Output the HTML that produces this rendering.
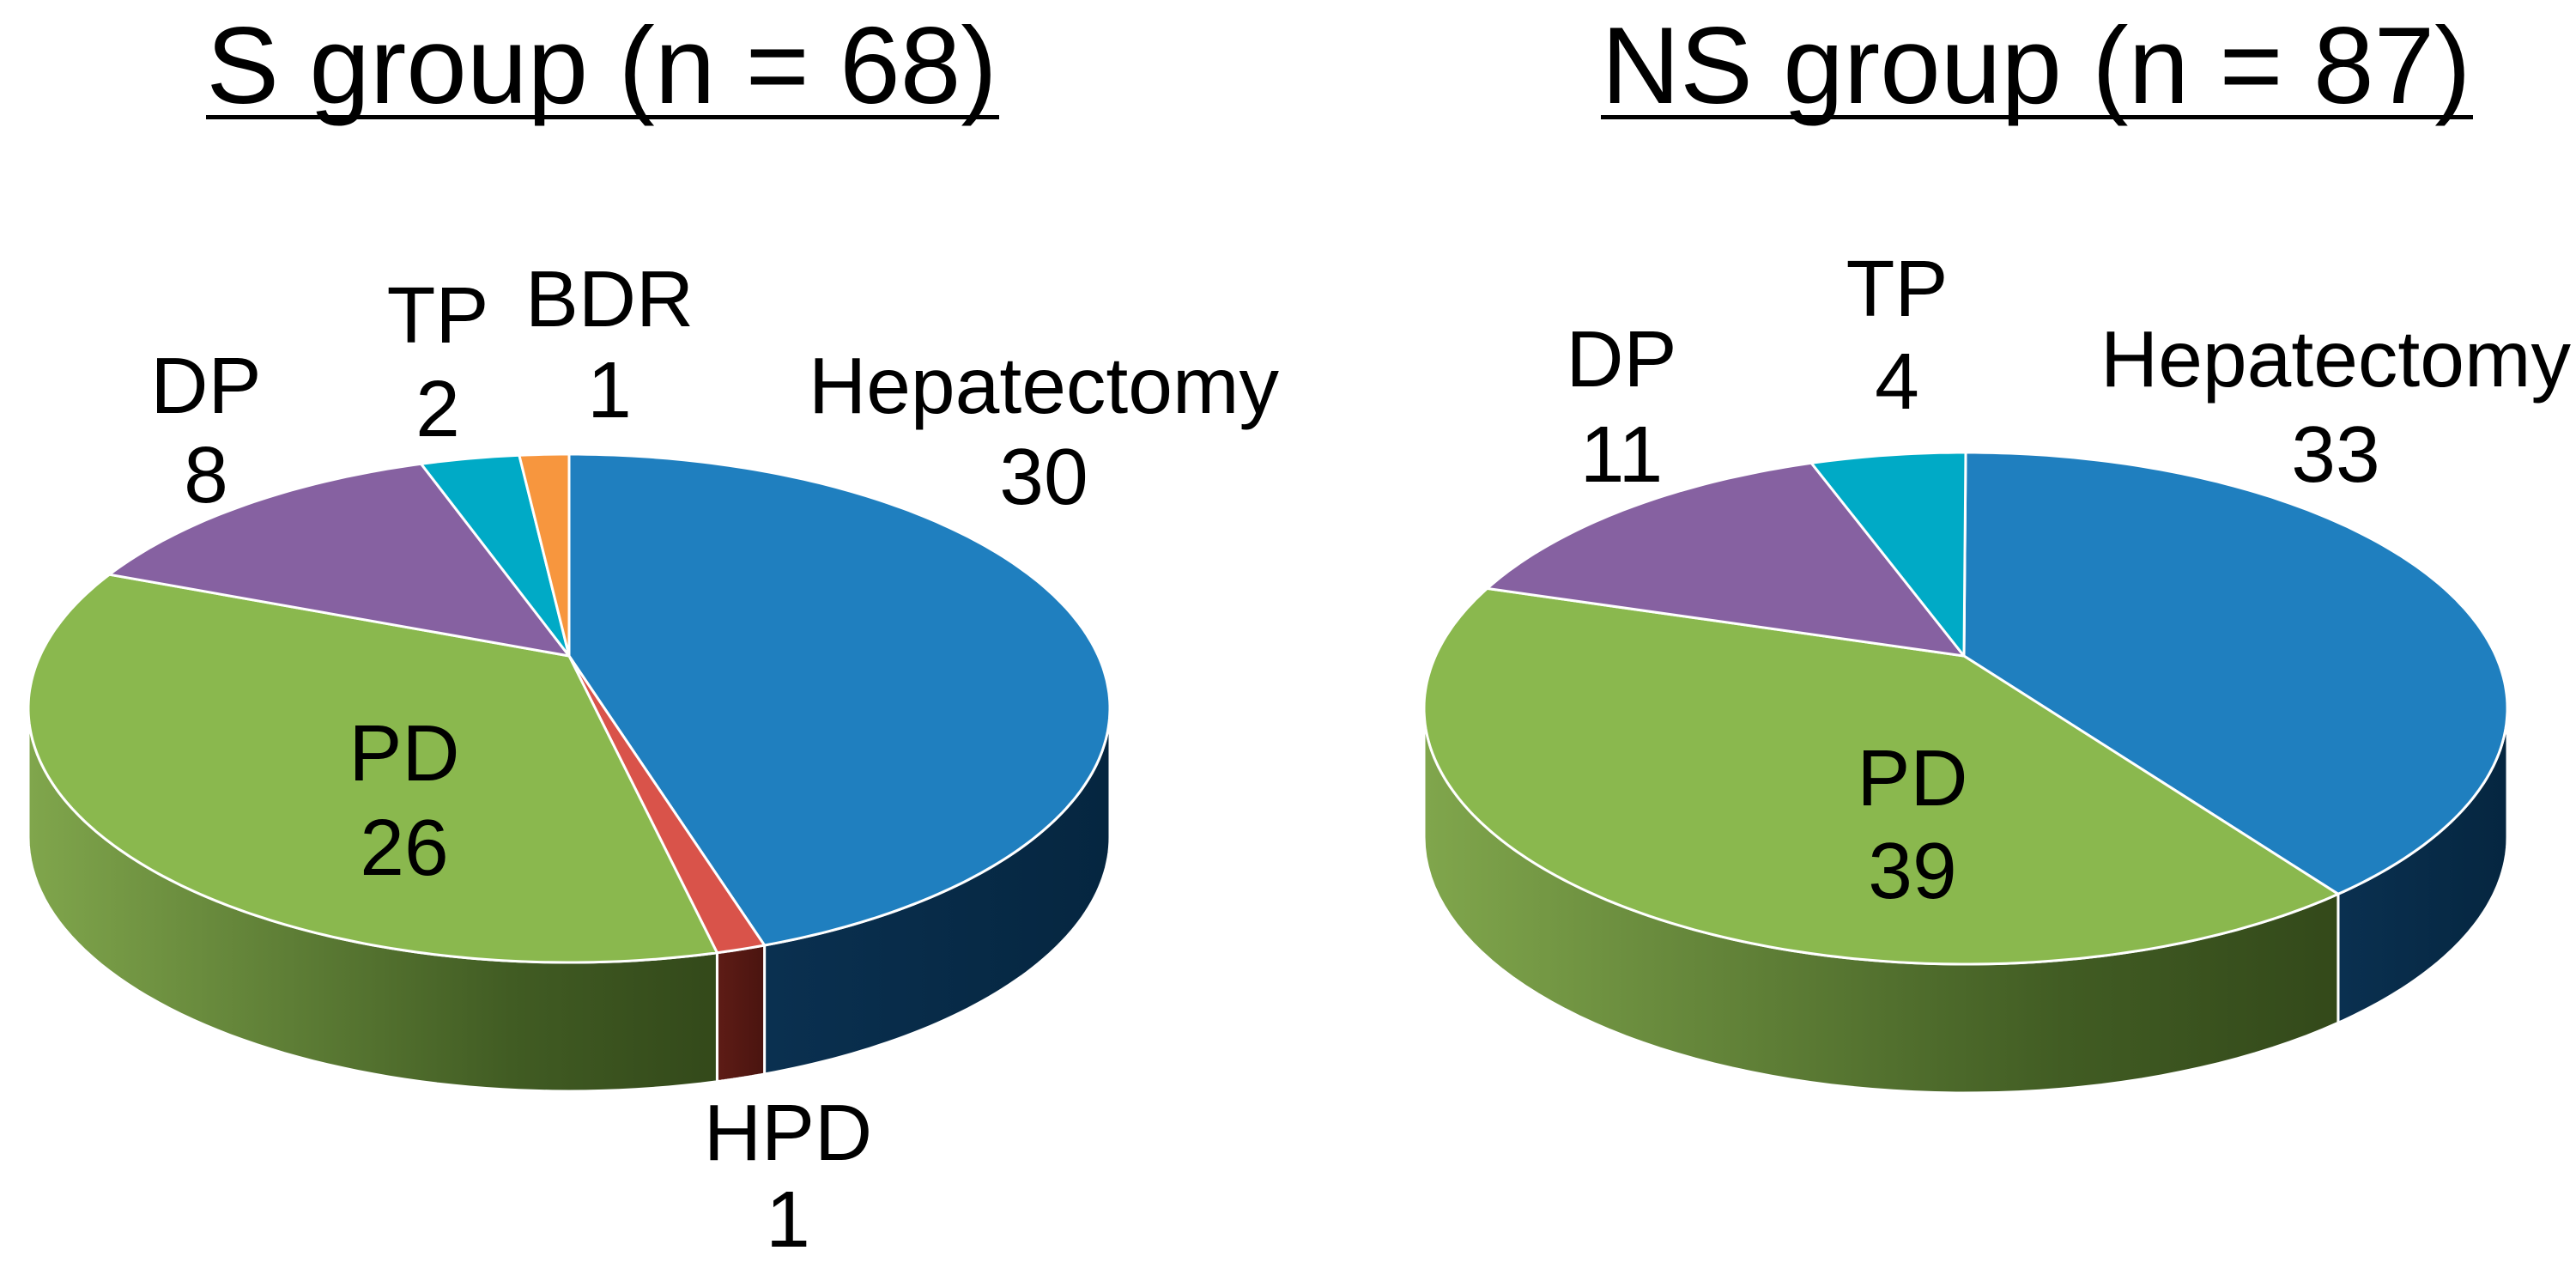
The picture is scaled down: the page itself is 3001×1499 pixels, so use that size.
<!DOCTYPE html>
<html><head><meta charset="utf-8"><style>
html,body{margin:0;padding:0;background:#fff;}
svg{display:block;font-family:"Liberation Sans",Arial,sans-serif;}
</style></head><body>
<svg id="chart" width="3001" height="1499" viewBox="0 0 3001 1499" xmlns="http://www.w3.org/2000/svg">
<defs>
<linearGradient id="gGreen" x1="0" x2="1" y1="0" y2="0"><stop offset="0" stop-color="#80a64c"/><stop offset="0.7" stop-color="#415c23"/><stop offset="1" stop-color="#33491a"/></linearGradient>
<linearGradient id="gBlue" x1="0" x2="1"><stop offset="0" stop-color="#0a3050"/><stop offset="1" stop-color="#052640"/></linearGradient>
<linearGradient id="gRed" x1="0" x2="1"><stop offset="0" stop-color="#5e1c16"/><stop offset="1" stop-color="#4a140f"/></linearGradient>
</defs>
<g>
<text x="701" y="120" font-size="127" text-anchor="middle" fill="#000">S group (n = 68)</text>
<rect x="240" y="134" width="924" height="5" fill="#000"/>
</g>
<g>
<text x="2372" y="120" font-size="127" text-anchor="middle" fill="#000">NS group (n = 87)</text>
<rect x="1865" y="134" width="1016" height="5" fill="#000"/>
</g>
<g id="pies"></g>
<g id="labels" font-size="93" fill="#000" text-anchor="middle"></g>
</svg>
<script>
const sCategories = ["Hepatectomy","HPD","PD","DP","TP","BDR"];
const sValues = [30,1,26,8,2,1];
const nsCategories = ["Hepatectomy","PD","DP","TP"];
const nsValues = [33,39,11,4];

const colors = {Hepatectomy:"#1f7fbf",HPD:"#d9534a",PD:"#8ab84e",DP:"#8661a1",TP:"#00aac6",BDR:"#f7963e"};
const sideFill = {Hepatectomy:"url(#gBlue)",HPD:"url(#gRed)",PD:"url(#gGreen)",DP:"#4e3561",TP:"#006476",BDR:"#9a5a20"};

const NS="http://www.w3.org/2000/svg";
const pies=document.getElementById('pies');
const labelsG=document.getElementById('labels');

function drawPie(cats, vals, geo, prefix){
  const total=vals.reduce((a,b)=>a+b,0);
  const g=document.createElementNS(NS,'g');
  
  
  pies.appendChild(g);
  const rim=t=>[geo.cx+geo.rx*Math.sin(t), geo.cy-geo.ry*Math.cos(t)];
  let a=0;
  const slices=vals.map((v,i)=>{const s=a; a+=v/total*2*Math.PI; return {cat:cats[i],s:s,e:a};});
  slices.forEach(sl=>{
    const s=Math.max(sl.s,Math.PI/2), e=Math.min(sl.e,1.5*Math.PI);
    if(e<=s) return;
    let pts=[];
    const n=60;
    for(let k=0;k<=n;k++){pts.push(rim(s+(e-s)*k/n));}
    let back=pts.slice().reverse().map(p=>[p[0],p[1]+geo.d]);
    const all=pts.concat(back);
    const p=document.createElementNS(NS,'path');
    p.setAttribute('d','M'+all.map(q=>q[0].toFixed(1)+','+q[1].toFixed(1)).join('L')+'Z');
    p.setAttribute('fill',sideFill[sl.cat]);
    p.setAttribute('stroke','#fff');
    p.setAttribute('stroke-width','3');
    
    
    g.appendChild(p);
  });
  slices.forEach(sl=>{
    let pts=[[geo.ax,geo.ay]];
    const n=Math.max(4,Math.ceil((sl.e-sl.s)*60));
    for(let k=0;k<=n;k++){pts.push(rim(sl.s+(sl.e-sl.s)*k/n));}
    const p=document.createElementNS(NS,'path');
    p.setAttribute('d','M'+pts.map(q=>q[0].toFixed(1)+','+q[1].toFixed(1)).join('L')+'Z');
    p.setAttribute('fill',colors[sl.cat]);
    p.setAttribute('stroke','#fff');
    p.setAttribute('stroke-width','3');
    p.setAttribute('stroke-linejoin','round');
    
    
    g.appendChild(p);
  });
}
drawPie(sCategories,sValues,{cx:663,cy:825,rx:630,ry:296,ax:663,ay:764,d:150},'s-group');
drawPie(nsCategories,nsValues,{cx:2290,cy:825,rx:631,ry:298,ax:2288,ay:764,d:150},'ns-group');

const labelPos=[
 ['s-group',sCategories,sValues,[[1216,481],[918,1351],[471,909],[240,481],[510,399],[710,380]],[106,101,110,104,109,106]],
 ['ns-group',nsCategories,nsValues,[[2721,450],[2228,938],[1889,450],[2210,368]],[111,108,111,108]]
];
labelPos.forEach(([prefix,cats,vals,pos,gap])=>{
  cats.forEach((c,i)=>{
    const t=document.createElementNS(NS,'text');
    t.setAttribute('x',pos[i][0]);
    t.setAttribute('y',pos[i][1]);
    
    
    const t1=document.createElementNS(NS,'tspan');
    t1.setAttribute('x',pos[i][0]); t1.textContent=c;
    const t2=document.createElementNS(NS,'tspan');
    t2.setAttribute('x',pos[i][0]); t2.setAttribute('dy',gap[i]); t2.textContent=vals[i];
    t.appendChild(t1); t.appendChild(t2);
    labelsG.appendChild(t);
  });
});
</script>
</body></html>
